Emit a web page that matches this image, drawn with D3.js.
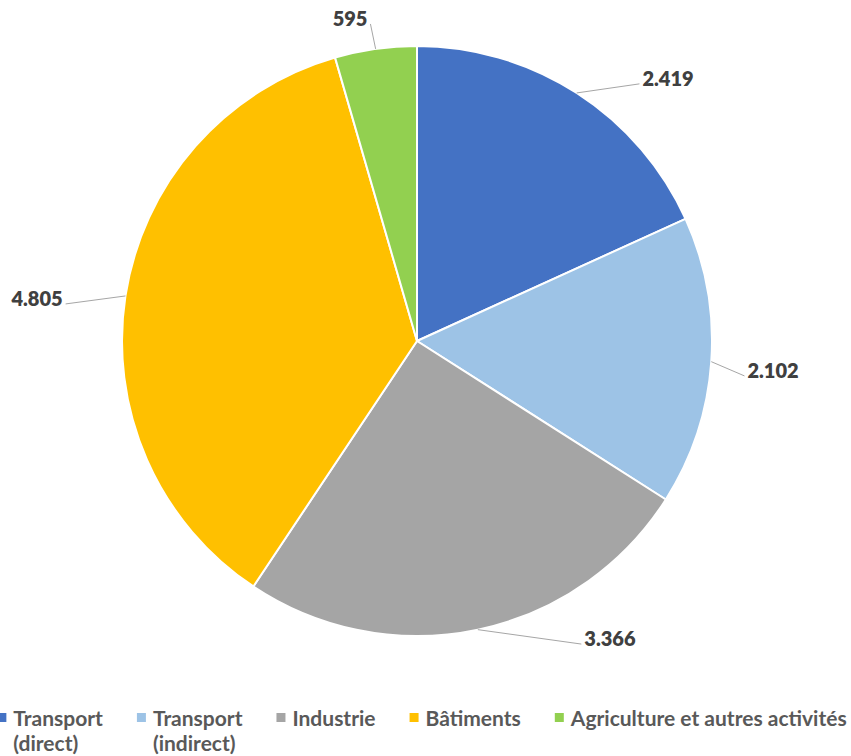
<!DOCTYPE html>
<html>
<head>
<meta charset="utf-8">
<script src="https://cdn.jsdelivr.net/npm/d3@7"></script>
<style>
  html, body { margin: 0; padding: 0; background: #fff; }
  svg { display: block; }
</style>
</head>
<body>
<svg id="chart" width="851" height="756"></svg>
<script>
// Emission categories and their values
const categories = ["Transport (direct)", "Transport (indirect)", "Industrie", "Bâtiments", "Agriculture et autres activités"];
const legendLines = [["Transport", "(direct)"], ["Transport", "(indirect)"], ["Industrie"], ["Bâtiments"], ["Agriculture et autres activités"]];
const values = [2419, 2102, 3366, 4805, 595];
const colors = ["#4472C4", "#9DC3E6", "#A5A5A5", "#FFC000", "#92D050"];

// Label placement relative to pie centre, in units of the radius
const labelOffsets = [[0.851, -0.892], [1.207, 0.098], [0.654, 1.007], [-1.288, -0.146], [-0.227, -1.095]];

const W = 851, H = 756;
const cx = 417, cy = 341, R = 295;
const legendCenter = 422;
const font = "Lato, 'Open Sans', sans-serif";

const fmt = d3.formatLocale({ decimal: ",", thousands: ".", grouping: [3], currency: ["", ""] }).format(",d");

const svg = d3.select("#chart");
const data = categories.map((c, i) => ({ name: c, value: values[i], color: colors[i], idx: i }));

const pie = d3.pie().value(d => d.value).sort(null);
const arcs = pie(data);
const arc = d3.arc().innerRadius(0).outerRadius(R);

const g = svg.append("g").attr("transform", `translate(${cx},${cy})`);

g.selectAll("path.slice")
  .data(arcs)
  .join("path")
  .attr("class", "slice")
  .attr("d", arc)
  .attr("fill", d => d.data.color)
  .attr("stroke", "#fff")
  .attr("stroke-width", 2)
  .attr("stroke-linejoin", "round");

// Data labels with leader lines
const labels = g.append("g");
arcs.forEach((a, i) => {
  const mid = (a.startAngle + a.endAngle) / 2;
  const px = R * Math.sin(mid), py = -R * Math.cos(mid);
  const [ox, oy] = labelOffsets[i];
  const lx = ox * R, ly = oy * R;
  const t = labels.append("text")
    .attr("x", lx).attr("y", ly)
    .attr("text-anchor", "middle")
    .attr("dominant-baseline", "central")
    .attr("font-family", font)
    .attr("font-weight", 800)
    .attr("font-size", 20)
    .attr("fill", "#404040")
    .text(fmt(a.data.value));
  const bb = t.node().getBBox();
  const ex = lx < 0 ? bb.x + bb.width + 3 : bb.x - 3;
  const ey = ly + 6;
  labels.insert("line", "text")
    .attr("x1", px).attr("y1", py)
    .attr("x2", ex).attr("y2", ey)
    .attr("stroke", "#A6A6A6")
    .attr("stroke-width", 1);
});

// Legend along the bottom
const legend = svg.append("g").attr("transform", "translate(0,726)");
const items = [];
data.forEach((d, i) => {
  const item = legend.append("g");
  item.append("rect")
    .attr("width", 9).attr("height", 9)
    .attr("y", -13)
    .attr("fill", d.color);
  const txt = item.append("text")
    .attr("x", 16)
    .attr("font-family", font)
    .attr("font-weight", 700)
    .attr("font-size", 21)
    .attr("fill", "#595959");
  legendLines[i].forEach((ln, k) => {
    txt.append("tspan").attr("x", 16).attr("dy", k === 0 ? 0 : 25).text(ln);
  });
  const w = 16 + d3.max(txt.selectAll("tspan").nodes(), n => n.getComputedTextLength());
  items.push({ item, w });
});
const gap = 34;
const total = d3.sum(items, d => d.w) + gap * (items.length - 1);
let x = legendCenter - total / 2;
items.forEach(d => {
  d.item.attr("transform", `translate(${x},0)`);
  x += d.w + gap;
});
</script>
</body>
</html>
